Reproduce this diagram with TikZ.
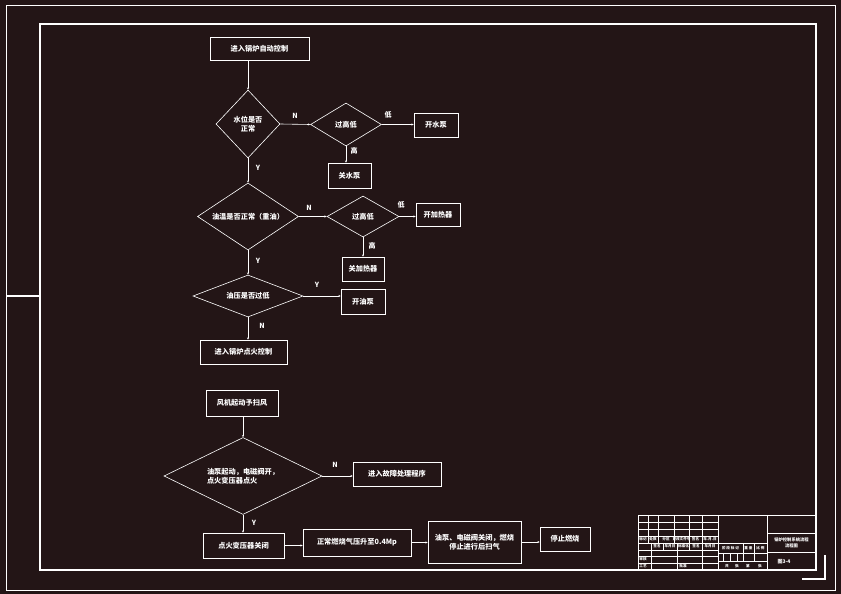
\documentclass[tikz,border=0pt]{standalone}
\usepackage{fontspec}
\newfontfamily\cjk{Noto Sans CJK SC}
\usetikzlibrary{shapes.geometric,arrows.meta}
\definecolor{bg}{RGB}{35,21,22}
\begin{document}
\begin{tikzpicture}[x=1pt,y=-1pt,
  every node/.style={text=white},
  box/.style={draw=white,line width=0.7pt,rectangle,inner sep=0pt,align=center,
    font=\cjk\bfseries\fontsize{7.2}{9}\selectfont},
  dia/.style={draw=white,line width=0.6pt,diamond,inner sep=0pt,align=center,
    font=\cjk\bfseries\fontsize{7.2}{9}\selectfont},
  lbl/.style={font=\cjk\bfseries\fontsize{7}{8}\selectfont,inner sep=0pt},
  conn/.style={draw=white,line width=0.6pt,-{Stealth[length=2.2pt,width=2pt]}},
  frame/.style={draw=white,line width=1pt},
  tb/.style={draw=white,line width=0.6pt},
  tt/.style={font=\cjk\bfseries\fontsize{3.6}{4}\selectfont,inner sep=0pt}
]
\useasboundingbox (0,0) rectangle (841,594);
\fill[bg] (0,0) rectangle (841,594);
% frames
\draw[frame,line width=0.8pt] (6,5) rectangle (835,590);
\draw[frame,line width=1.2pt] (40,24) rectangle (816,570);
\draw[frame,line width=1.5pt] (6,296) -- (40,296);
\draw[frame,line width=1.5pt] (802,579) -- (825,579) -- (825,555);

% top flow
\node[box,minimum width=99,minimum height=23] (b1) at (259.5,48.5) {进入锅炉自动控制};
\node[dia,minimum width=64,minimum height=68,aspect=1] (d1) at (248,124) {水位是否\\正常};
\node[dia,minimum width=71,minimum height=43,aspect=1.65] (d2) at (346,124.5) {过高低};
\node[box,minimum width=44,minimum height=24] (b2) at (436,125) {开水泵};
\node[box,minimum width=43,minimum height=25] (b3) at (349.5,175.5) {关水泵};
\node[dia,minimum width=101,minimum height=67,aspect=1.5] (d3) at (248,216.5) {油温是否正常（重油）};
\node[dia,minimum width=72,minimum height=41,aspect=1.75] (d4) at (363,216.5) {过高低};
\node[box,minimum width=44,minimum height=23] (b4) at (438,214.5) {开加热器};
\node[box,minimum width=42,minimum height=24] (b5) at (363,269) {关加热器};
\node[dia,minimum width=110,minimum height=42,aspect=2.6] (d5) at (248,296) {油压是否过低};
\node[box,minimum width=44,minimum height=25] (b6) at (363,301.5) {开油泵};
\node[box,minimum width=87,minimum height=24] (b7) at (243.5,352) {进入锅炉点火控制};

\draw[conn] (b1.south -| d1.north) -- (d1.north);
\draw[conn] (d1.east) -- (d2.west);
\draw[conn] (d2.east) -- (b2.west |- d2.east);
\draw[conn] (d2.south) -- (d2.south |- b3.north);
\draw[conn] (d1.south) -- (d3.north);
\draw[conn] (d3.east) -- (d4.west);
\draw[conn] (d4.east) -- (b4.west |- d4.east);
\draw[conn] (d4.south) -- (d4.south |- b5.north);
\draw[conn] (d3.south) -- (d5.north);
\draw[conn] (d5.east) -- (b6.west |- d5.east);
\draw[conn] (d5.south) -- (d5.south |- b7.north);

\node[lbl] (l1) at (295,116) {N};
\node[lbl] (l2) at (388,115) {低};
\node[lbl] (l3) at (354,151) {高};
\node[lbl] (l4) at (258,168) {Y};
\node[lbl] (l5) at (309,208) {N};
\node[lbl] (l6) at (401,205) {低};
\node[lbl] (l7) at (372,246) {高};
\node[lbl] (l8) at (258,261) {Y};
\node[lbl] (l9) at (317,285) {Y};
\node[lbl] (l10) at (262,326) {N};

% bottom flow
\node[box,minimum width=72,minimum height=26] (b8) at (242,403) {风机起动予扫风};
\node[dia,minimum width=158,minimum height=77,aspect=2,align=left] (d6) at (243,476) {油泵起动，电磁阀开，\\点火变压器点火};
\node[box,minimum width=88,minimum height=24] (b9) at (397,474) {进入故障处理程序};
\node[box,minimum width=81,minimum height=25] (b10) at (243.5,545.5) {点火变压器关闭};
\node[box,minimum width=108,minimum height=27] (b11) at (357,542.5) {正常燃烧气压升至0.4Mp};
\node[box,minimum width=93,minimum height=42] (b12) at (474.5,542) {油泵、电磁阀关闭，燃烧\\停止进行后扫气};
\node[box,minimum width=50,minimum height=24] (b13) at (565,539) {停止燃烧};

\draw[conn] (b8.south -| d6.north) -- (d6.north);
\draw[conn] (d6.east) -- (b9.west |- d6.east);
\draw[conn] (d6.south) -- (d6.south |- b10.north);
\draw[conn] (b10.east) -- (b11.west |- b10.east);
\draw[conn] (b11.east) -- (b12.west |- b11.east);
\draw[conn] (b12.east) -- (b13.west |- b12.east);

\node[lbl] (l11) at (335,465) {N};
\node[lbl] (l12) at (254,523) {Y};

% title block
\draw[tb] (638,515) rectangle (816,570);
\draw[tb] (718,515) -- (718,570);
\draw[tb] (767,515) -- (767,570);
\foreach \y in {522,529,536,543,550,556,563} \draw[tb] (638,\y) -- (718,\y);
\foreach \x in {648,658,674,689,702} \draw[tb] (\x,515) -- (\x,543);
\foreach \x in {651,677,702} \draw[tb] (\x,543) -- (\x,570);
\foreach \x in {663,689} \draw[tb] (\x,543) -- (\x,550);
\draw[tb] (718,543) -- (767,543);
\draw[tb] (718,553) -- (767,553);
\draw[tb] (718,561) -- (767,561);
\foreach \x in {723,730,737} \draw[tb] (\x,553) -- (\x,561);
\foreach \x in {743,754} \draw[tb] (\x,543) -- (\x,561);
\draw[tb] (767,533) -- (816,533);
\draw[tb] (767,552) -- (816,552);

\node[tt] (t1) at (643,539.5) {标记};
\node[tt] (t2) at (653,539.5) {处数};
\node[tt] (t3) at (666,539.5) {分区};
\node[tt] (t4) at (681.5,539.5) {更改文件号};
\node[tt] (t5) at (695.5,539.5) {签名};
\node[tt] (t6) at (710,539.5) {年.月.日};
\node[tt] (t7) at (657,546.5) {签名};
\node[tt] (t8) at (670,546.5) {年月日};
\node[tt] (t9) at (683.5,546.5) {标准化};
\node[tt] (t10) at (696,546.5) {签名};
\node[tt] (t11) at (710,546.5) {年月日};
\node[tt] (t12) at (643,559.5) {审核};
\node[tt] (t13) at (643,566.5) {工艺};
\node[tt] (t14) at (683,566.5) {批准};
\node[tt] (t15) at (730.5,548) {阶 段 标 记};
\node[tt] (t16) at (748.5,548) {重 量};
\node[tt] (t17) at (760.5,548) {比 例};
\node[tt] (t18) at (727,566) {共};
\node[tt] (t19) at (737,566) {张};
\node[tt] (t20) at (748,566) {第};
\node[tt] (t21) at (760,566) {张};
\node[tt,font=\cjk\bfseries\fontsize{4.3}{6}\selectfont,align=center] (t22) at (791.5,542.5) {锅炉控制系统流程\\流程图};
\node[tt,font=\cjk\bfseries\fontsize{5}{6}\selectfont] (t23) at (784,561.5) {图3-4};
\end{tikzpicture}
\end{document}
